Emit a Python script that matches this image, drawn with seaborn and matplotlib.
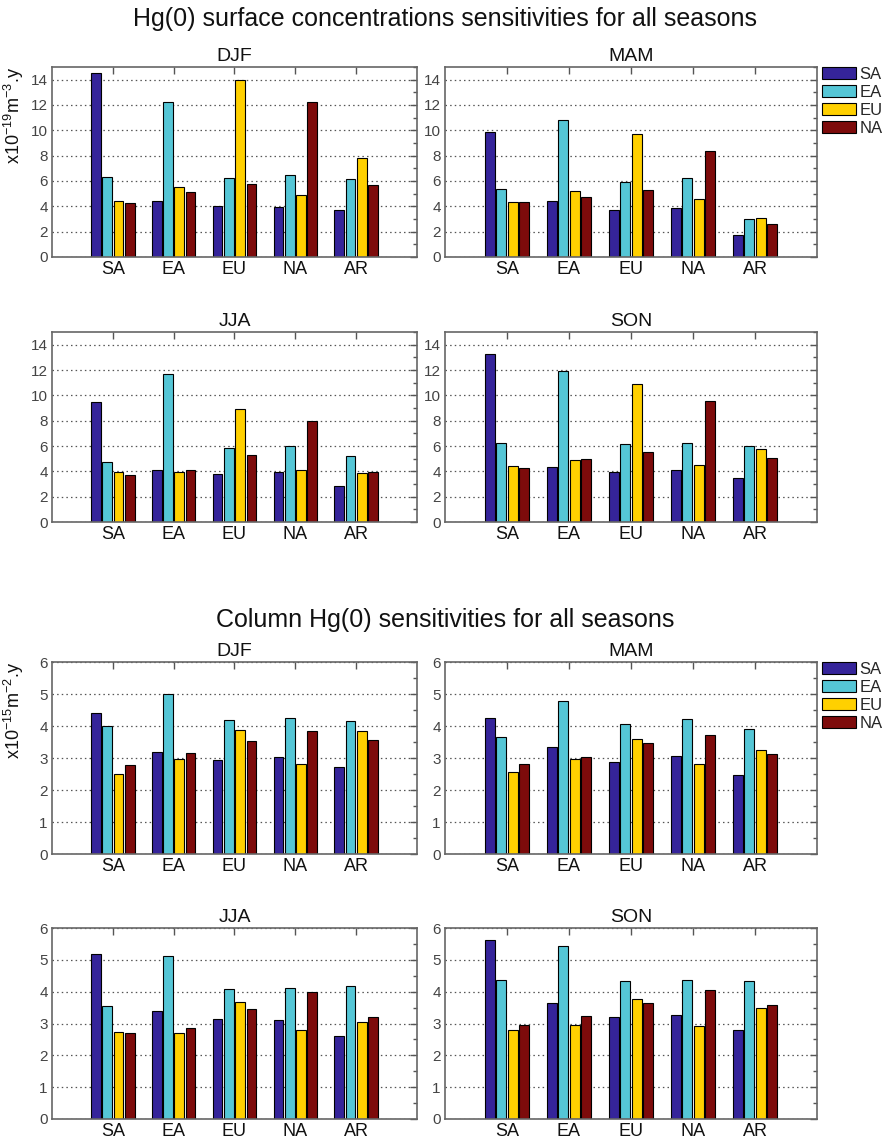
import matplotlib
matplotlib.use("Agg")
import matplotlib.pyplot as plt
from matplotlib.patches import Patch
from matplotlib.ticker import MultipleLocator
import seaborn as sns
import pandas as pd

regions = ["SA", "EA", "EU", "NA", "AR"]
sources = ["SA", "EA", "EU", "NA"]
seasons = ["DJF", "MAM", "JJA", "SON"]
colors = ["#35249A", "#55C6D6", "#FFD000", "#7D0B0B"]

# surface sensitivities (x1e-19 m^-3.y); rows = receptor region, cols = source SA, EA, EU, NA
surf_DJF = [[14.5, 6.3, 4.4, 4.3], [4.4, 12.25, 5.5, 5.15], [4.0, 6.2, 14.0, 5.8], [3.95, 6.45, 4.9, 12.25], [3.75, 6.15, 7.85, 5.65]]
surf_MAM = [[9.85, 5.37, 4.35, 4.35], [4.4, 10.85, 5.2, 4.75], [3.75, 5.9, 9.75, 5.27], [3.83, 6.23, 4.6, 8.35], [1.72, 3.0, 3.08, 2.6]]
surf_JJA = [[9.45, 4.74, 3.95, 3.7], [4.14, 11.65, 3.95, 4.14], [3.77, 5.83, 8.9, 5.26], [3.95, 5.98, 4.14, 7.94], [2.84, 5.18, 3.83, 3.95]]
surf_SON = [[13.27, 6.25, 4.42, 4.27], [4.35, 11.92, 4.87, 4.94], [3.98, 6.19, 10.93, 5.54], [4.09, 6.27, 4.53, 9.55], [3.51, 5.98, 5.75, 5.07]]

# column sensitivities (x1e-15 m^-2.y)
col_DJF = [[4.41, 3.99, 2.51, 2.78], [3.19, 5.0, 2.98, 3.15], [2.95, 4.18, 3.86, 3.54], [3.04, 4.25, 2.81, 3.84], [2.71, 4.15, 3.83, 3.57]]
col_MAM = [[4.25, 3.66, 2.57, 2.8], [3.34, 4.78, 2.98, 3.04], [2.89, 4.05, 3.6, 3.46], [3.07, 4.22, 2.8, 3.72], [2.46, 3.9, 3.24, 3.13]]
col_JJA = [[5.18, 3.55, 2.74, 2.71], [3.39, 5.11, 2.69, 2.86], [3.13, 4.07, 3.68, 3.47], [3.1, 4.12, 2.8, 3.99], [2.6, 4.18, 3.06, 3.21]]
col_SON = [[5.62, 4.36, 2.8, 2.95], [3.63, 5.44, 2.94, 3.25], [3.19, 4.34, 3.78, 3.65], [3.28, 4.38, 2.92, 4.04], [2.8, 4.34, 3.48, 3.57]]

surf_data = {"DJF": surf_DJF, "MAM": surf_MAM, "JJA": surf_JJA, "SON": surf_SON}
col_data = {"DJF": col_DJF, "MAM": col_MAM, "JJA": col_JJA, "SON": col_SON}

title_surf = "Hg(0) surface concentrations sensitivities for all seasons"
title_col = "Column Hg(0) sensitivities for all seasons"
ylabel_surf = r"x10$^{-19}$m$^{-3}$.y"
ylabel_col = r"x10$^{-15}$m$^{-2}$.y"

sns.set_theme(style="white")
plt.rcParams["font.family"] = ["Liberation Sans", "DejaVu Sans"]
plt.rcParams["mathtext.fontset"] = "custom"
plt.rcParams["mathtext.rm"] = "Liberation Sans"
plt.rcParams["mathtext.it"] = "Liberation Sans:italic"

W, H = 885, 1142
fig = plt.figure(figsize=(W / 100, H / 100), dpi=100)
fig.patch.set_facecolor("white")


def frac_ax(x0, y0, x1, y1):
    return fig.add_axes([x0 / W, 1 - y1 / H, (x1 - x0) / W, (y1 - y0) / H])


def to_df(mat):
    rows = []
    for i, r in enumerate(regions):
        for j, s in enumerate(sources):
            rows.append({"region": r, "source": s, "value": mat[i][j]})
    return pd.DataFrame(rows)


def draw(ax, mat, season, ymax, major, minor, ylabel=None, legend=False):
    df = to_df(mat)
    ax.set_axisbelow(True)
    sns.barplot(data=df, x="region", y="value", hue="source", order=regions,
                hue_order=sources, palette=colors, width=0.74, gap=0.14,
                edgecolor="black", linewidth=0.8, legend=False, ax=ax,
                saturation=1)
    ax.set_xlim(-1, 5)
    ax.set_ylim(0, ymax)
    ax.yaxis.set_major_locator(MultipleLocator(major))
    ax.yaxis.set_minor_locator(MultipleLocator(minor))
    ax.set_xlabel("")
    ax.set_ylabel("")
    ax.grid(axis="y", which="major", linestyle=(0, (1.2, 2.5)), color="#555555", linewidth=0.9)
    ax.grid(axis="x", visible=False)
    for sp in ax.spines.values():
        sp.set_color("#666666")
        sp.set_linewidth(1.2)
        sp.set_visible(True)
    ax.tick_params(axis="both", which="both", direction="in", top=True, right=True,
                   colors="#555555", width=1.0)
    ax.tick_params(axis="both", which="major", length=5)
    ax.tick_params(axis="y", which="minor", length=3)
    ax.tick_params(axis="y", labelsize=11, labelcolor="#444444", pad=3)
    ax.tick_params(axis="x", labelsize=13, labelcolor="#111111", pad=3)
    ax.set_title(season, fontsize=14, pad=4, color="#111111")
    if ylabel:
        ax.text(-0.105, 1.0, ylabel, transform=ax.transAxes, rotation=90,
                ha="center", va="top", fontsize=13, color="#111111")
    if legend:
        handles = [Patch(facecolor=c, edgecolor="black", linewidth=0.8) for c in colors]
        ax.legend(handles, sources, loc="upper left", bbox_to_anchor=(1.013, 1.0),
                  frameon=False, fontsize=12, handlelength=2.05, handleheight=0.75,
                  labelspacing=0.18, handletextpad=0.2, borderaxespad=0,
                  borderpad=0)


# ---- surface block
ax1 = frac_ax(52, 67, 417, 257)
ax2 = frac_ax(445, 67, 817, 257)
ax3 = frac_ax(52, 332, 417, 522)
ax4 = frac_ax(445, 332, 817, 522)
for ax, s in zip([ax1, ax2, ax3, ax4], seasons):
    draw(ax, surf_data[s], s, 15, 2, 1,
         ylabel=ylabel_surf if s == "DJF" else None, legend=(s == "MAM"))

# ---- column block
bx1 = frac_ax(52, 662, 417, 854)
bx2 = frac_ax(445, 662, 817, 854)
bx3 = frac_ax(52, 928, 417, 1119)
bx4 = frac_ax(445, 928, 817, 1119)
for ax, s in zip([bx1, bx2, bx3, bx4], seasons):
    draw(ax, col_data[s], s, 6, 1, 0.5,
         ylabel=ylabel_col if s == "DJF" else None, legend=(s == "MAM"))

fig.text(0.503, 1 - 19 / H, title_surf, ha="center", va="center", fontsize=18, color="#111111")
fig.text(0.503, 1 - 620 / H, title_col, ha="center", va="center", fontsize=18, color="#111111")

fig.savefig("out.png", dpi=100, facecolor="white")
